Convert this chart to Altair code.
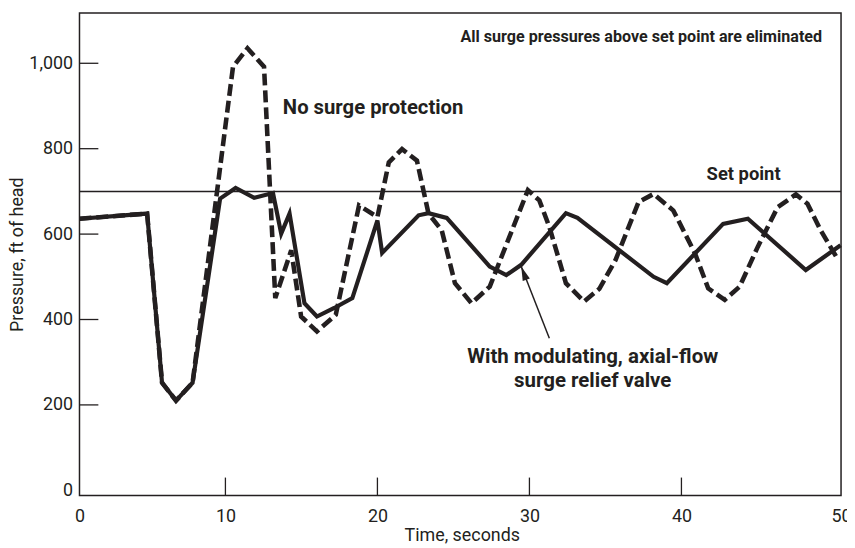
import altair as alt
import pandas as pd

# ---- data ----
solid_t = [0.4, 4.85, 5.83, 6.75, 7.84, 9.65, 10.67, 11.89, 13.13, 13.67, 14.22, 15.2, 16.02,
           17.16, 18.35, 20.0, 20.31, 22.71, 23.36, 24.56, 27.39, 28.48, 29.46, 32.4, 33.16,
           38.17, 39.04, 42.74, 44.37, 48.18, 50.47]
solid_p = [636, 648, 252, 210, 252, 683, 708, 685, 696, 601, 648, 438, 407,
           427, 450, 632, 556, 644, 649, 638, 524, 504, 528, 649, 638,
           500, 485, 624, 636, 516, 574]

dash_t = [0.4, 4.85, 5.83, 6.75, 7.84, 10.5, 11.45, 12.54, 13.28, 14.33, 14.98, 16.02, 17.26,
          18.79, 20.0, 20.75, 21.62, 22.6, 23.36, 24.23, 25.1, 26.19, 27.39, 29.9, 30.65,
          31.31, 32.4, 33.59, 34.6, 35.66, 37.18, 38.17, 39.47, 40.89, 41.76, 42.85, 43.83,
          45.02, 46.33, 47.53, 48.29, 49.16, 50.25]
dash_p = [636, 648, 252, 210, 252, 992, 1035, 992, 450, 562, 407, 372, 411,
          667, 640, 768, 799, 772, 648, 609, 485, 438, 477, 703, 679,
          617, 485, 442, 472, 539, 675, 694, 655, 555, 473, 446, 477,
          570, 663, 693, 671, 609, 543]

set_point = 700
x_ticks = [10, 20, 30, 40]
y_ticks = [200, 400, 600, 800, 1000]
x_label_values = [0.4, 10, 20, 30, 40, 50.5]
y_label_values = [0, 200, 400, 600, 800, 1000]

notes = ["All surge pressures above set point are eliminated", "No surge protection",
         "Set point", "With modulating, axial-flow\nsurge relief valve"]
note_t = [37.36, 13.78, 44.09, 34.16]
note_p = [1062, 895, 741, 313]

arrow_t = [31.31, 29.46]
arrow_p = [356, 524]

INK = "#231f20"
FONT = "Roboto, Liberation Sans, sans-serif"

X_DOM = [0.4, 50.5]
Y_DOM = [-12, 1118]

xs = alt.Scale(domain=X_DOM, nice=False, zero=False)
ys = alt.Scale(domain=Y_DOM, nice=False, zero=False)

solid_df = pd.DataFrame({"t": solid_t, "p": solid_p})
dash_df = pd.DataFrame({"t": dash_t, "p": dash_p})

base_x = alt.X("t:Q", scale=xs, title="Time, seconds",
               axis=alt.Axis(values=x_label_values,
                             labelExpr="datum.value < 1 ? '0' : (datum.value > 50 ? '50' : format(datum.value, 'd'))",
                             labelFlush=False, labelPadding=12,
                             titleX=385, titleY=40, titleBaseline="middle", titleAlign="center"))
base_y = alt.Y("p:Q", scale=ys, title="Pressure, ft of head",
               axis=alt.Axis(values=y_label_values, format=",d", labelPadding=7,
                             titleX=-62, titleY=243, titleAngle=270, titleBaseline="middle",
                             titleAlign="center"))

solid = alt.Chart(solid_df).mark_line(color=INK, strokeWidth=4.2, strokeJoin="miter").encode(x=base_x, y=base_y)
dashed = alt.Chart(dash_df).mark_line(color=INK, strokeWidth=4.6, strokeDash=[12, 5],
                                      strokeJoin="miter").encode(x=alt.X("t:Q", scale=xs), y=alt.Y("p:Q", scale=ys))

setline = alt.Chart(pd.DataFrame({"p": [set_point]})).mark_rule(color=INK, strokeWidth=1.5).encode(
    y=alt.Y("p:Q", scale=ys))

xtick = alt.Chart(pd.DataFrame({"t": x_ticks})).mark_rule(color=INK, strokeWidth=1.3).encode(
    x=alt.X("t:Q", scale=xs), y=alt.value(486), y2=alt.value(468))
ytick = alt.Chart(pd.DataFrame({"p": y_ticks})).mark_rule(color=INK, strokeWidth=1.3).encode(
    y=alt.Y("p:Q", scale=ys), x=alt.value(0), x2=alt.value(19))

notes_df = pd.DataFrame({"t": note_t, "p": note_p, "txt": notes})
txt_top = alt.Chart(notes_df.iloc[[0]]).mark_text(font=FONT, fontSize=16.2, fontWeight="bold", color=INK,
                                                  align="center", baseline="middle").encode(
    x=alt.X("t:Q", scale=xs), y=alt.Y("p:Q", scale=ys), text="txt:N")
txt_nosurge = alt.Chart(notes_df.iloc[[1]]).mark_text(font=FONT, fontSize=20.4, fontWeight="bold", color=INK,
                                                      align="left", baseline="middle").encode(
    x=alt.X("t:Q", scale=xs), y=alt.Y("p:Q", scale=ys), text="txt:N")
txt_set = alt.Chart(notes_df.iloc[[2]]).mark_text(font=FONT, fontSize=18.5, fontWeight="bold", color=INK,
                                                  align="center", baseline="middle").encode(
    x=alt.X("t:Q", scale=xs), y=alt.Y("p:Q", scale=ys), text="txt:N")
txt_with = alt.Chart(notes_df.iloc[[3]]).mark_text(font=FONT, fontSize=20.6, fontWeight="bold", color=INK,
                                                   align="center", baseline="middle", lineBreak="\n",
                                                   lineHeight=25).encode(
    x=alt.X("t:Q", scale=xs), y=alt.Y("p:Q", scale=ys), text="txt:N")

arrow_df = pd.DataFrame({"t": arrow_t, "p": arrow_p, "o": [0, 1]})
shaft = alt.Chart(arrow_df).mark_line(color=INK, strokeWidth=1.5).encode(
    x=alt.X("t:Q", scale=xs), y=alt.Y("p:Q", scale=ys), order="o:O")
head = alt.Chart(arrow_df.iloc[[1]]).mark_point(shape="M0,0L0.7,2.6L-0.7,2.6Z", filled=True, size=120,
                                                color=INK, opacity=1, angle=339).encode(
    x=alt.X("t:Q", scale=xs), y=alt.Y("p:Q", scale=ys))

chart = alt.layer(setline, xtick, ytick, solid, dashed, shaft, head,
                  txt_top, txt_nosurge, txt_set, txt_with).properties(
    width=767, height=486,
    autosize=alt.AutoSizeParams(type="none"),
    padding={"left": 72, "top": 3, "right": 6, "bottom": 50},
    background="white",
).configure_view(stroke=INK, strokeWidth=1.5).configure_axis(
    domain=False, ticks=False, grid=False,
    labelFont=FONT, labelFontSize=18, labelColor=INK,
    titleFont=FONT, titleFontSize=18, titleColor=INK, titleFontWeight="normal",
)

chart.save("out.html", embed_options={"renderer": "svg", "actions": False})
